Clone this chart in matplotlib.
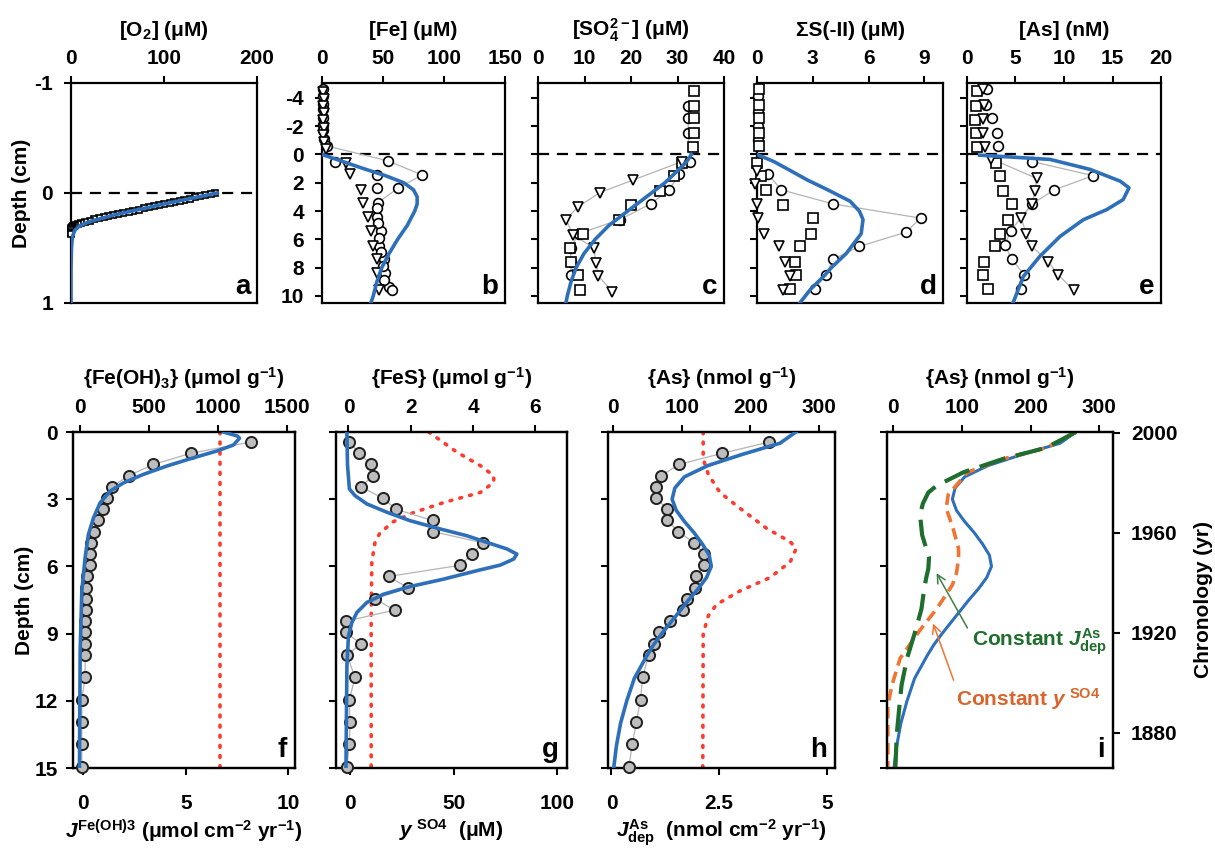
import matplotlib
matplotlib.use('Agg')
import matplotlib.pyplot as plt

plt.rcParams['font.family'] = 'Liberation Sans'
plt.rcParams['font.weight'] = 'bold'
plt.rcParams['axes.labelweight'] = 'bold'
plt.rcParams['axes.unicode_minus'] = False
plt.rcParams['mathtext.fontset'] = 'custom'
plt.rcParams['mathtext.rm'] = 'Liberation Sans:bold'
plt.rcParams['mathtext.it'] = 'Liberation Sans:italic:bold'
plt.rcParams['mathtext.bf'] = 'Liberation Sans:bold'
plt.rcParams['mathtext.sf'] = 'Liberation Sans:bold'

# ---------------- data ----------------
swi = 0  # sediment-water interface depth (cm)

# (a) O2 microprofile
o2_depth = [0.00, 0.01, 0.02, 0.03, 0.04, 0.05, 0.06, 0.07, 0.08, 0.09, 0.10, 0.11, 0.12,
            0.13, 0.14, 0.15, 0.16, 0.17, 0.18, 0.19, 0.20, 0.21, 0.22, 0.23, 0.24, 0.25,
            0.26, 0.27, 0.28, 0.29, 0.30, 0.31, 0.32, 0.33, 0.34, 0.35, 0.36, 0.37]
o2 = [155, 150, 144, 139, 133, 128, 122, 117, 111, 106, 100, 95, 89, 84, 78, 73, 67, 62,
      56, 51, 45, 40, 35, 30, 25, 20, 15, 11, 7, 4, 2, 1, 0, 0, 0, 0, 0, 0]
o2_model_depth = [0, 0.1, 0.2, 0.26, 0.3, 0.34, 0.4, 0.5, 0.7, 1.0]
o2_model = [157, 100, 46, 20, 9, 4, 1.5, 0.5, 0, 0]

# (b) Fe
fe_circ_depth = [-4.6, -4.1, -3.6, -3.2, -2.6, -2.1, -1.7, -1.1, -0.6, 0.45, 1.45, 2.4, 3.4,
                 4.4, 5.4, 6.45, 7.4, 8.4, 9.4]
fe_circ = [1, 1, 0.5, 1, 1, 0.5, 1, 1.5, 4, 54, 82, 62, 46, 45, 48, 47, 51, 52, 55]
fe_circ2_depth = [0.5, 1.45, 2.4, 3.8, 4.85, 5.9, 6.9, 7.9, 8.9, 9.6]
fe_circ2 = [11, 45, 45, 45, 46, 47, 48, 50, 51, 57]
fe_tri_depth = [-4.4, -3.9, -3.4, -2.9, -2.4, -1.9, -1.4, -0.9, -0.4, 0.6, 1.4, 2.5, 3.4,
                4.4, 5.4, 6.45, 7.4, 8.4, 9.6]
fe_tri = [1, 2, 1, 2, 1, 2, 1, 2, 3, 20, 23, 32, 34, 38, 40, 42, 45, 45, 47]
fe_model_depth = [0, 0.5, 1.0, 1.5, 2.0, 2.5, 3.0, 3.5, 4.0, 5.0, 6.0, 7.0, 8.0, 9.0, 10.0, 10.5]
fe_model = [0, 17, 34, 52, 67, 75, 78, 78, 76, 70, 62, 55, 49, 45, 42, 40]

# (c) SO4
so4_sq_depth = [-4.5, -3.4, -2.6, -1.5, -0.5, 0.6, 1.5, 2.6, 3.6, 4.6, 5.6, 6.6, 7.6, 8.5, 9.6]
so4_sq = [33.5, 33.5, 33.5, 33.5, 33.3, 31, 29.3, 26.3, 20.1, 17.4, 9.7, 6.8, 7.2, 8.6, 9]
so4_circ_depth = [-3.4, -2.6, -1.5, 0.5, 1.4, 2.5, 3.5, 4.6, 5.6, 6.6, 7.6, 8.5]
so4_circ = [32.3, 32.3, 32.3, 32.7, 30.4, 28.2, 24.2, 17.6, 8.8, 7.0, 7.0, 7.2]
so4_tri_depth = [0.5, 1.8, 2.7, 3.7, 4.6, 5.7, 6.6, 7.7, 8.6, 9.7]
so4_tri = [31, 20.5, 13.3, 8.6, 6.0, 7.6, 12, 12.5, 13, 16]
so4_model_depth = [0, 0.5, 1, 2, 3, 4, 5, 6, 7, 8, 9, 10, 10.5]
so4_model = [33, 32, 30.5, 27.3, 23.3, 19.3, 15.3, 12.3, 9.9, 8.2, 7.1, 6.3, 6.0]

# (d) sum S(-II)
hs_sq_depth = [-4.6, -3.5, -2.6, -1.5, -0.6, 0.6, 1.5, 2.5, 3.6, 4.5, 5.6, 6.5, 7.6, 8.5, 9.5]
hs_sq = [0.1, 0.1, 0.1, 0.1, 0.1, 0.0, 0.2, 0.5, 1.4, 3.0, 2.9, 2.3, 2.05, 2.1, 1.8]
hs_circ_depth = [-4.1, -3.0, -2.0, -1.0, 1.4, 2.5, 3.5, 4.5, 5.5, 6.5, 7.4, 8.5, 9.5]
hs_circ = [0.05, 0.05, 0.05, 0.05, 0.6, 1.3, 4.1, 8.8, 8.0, 5.5, 4.1, 3.7, 3.1]
hs_tri_depth = [1.2, 2.1, 3.5, 4.5, 5.6, 6.5, 7.6, 8.6, 9.6]
hs_tri = [0.0, -0.1, 0.0, 0.05, 0.4, 1.2, 1.5, 1.8, 1.4]
hs_model_depth = [0, 0.5, 1.0, 1.8, 2.5, 3.3, 4.0, 4.6, 5.6, 6.3, 7.0, 8.0, 8.6, 9.5, 10.5]
hs_model = [0, 0.9, 1.6, 2.7, 3.8, 5.0, 5.5, 5.7, 5.6, 5.2, 4.8, 4.0, 3.6, 2.9, 2.3]

# (e) dissolved As
asw_sq_depth = [-4.5, -3.4, -2.4, -1.5, -0.5, 0.6, 1.5, 2.6, 3.5, 4.6, 5.6, 6.5, 7.6, 8.5, 9.5]
asw_sq = [1.0, 0.9, 0.8, 0.9, 1.0, 3.0, 3.4, 3.7, 4.6, 4.2, 3.4, 2.9, 1.8, 1.6, 2.2]
asw_circ_depth = [-4.6, -3.5, -2.6, -1.5, -0.6, 0.5, 1.5, 2.5, 3.5, 5.4, 6.4, 7.4, 8.5, 9.5]
asw_circ = [2.1, 2.0, 2.6, 3.1, 3.2, 6.7, 13.0, 9.0, 6.7, 4.5, 3.9, 4.6, 5.9, 5.6]
asw_tri_depth = [-4.6, -3.5, -2.5, -1.5, -0.5, 0.3, 1.7, 2.6, 3.5, 4.5, 5.6, 6.5, 7.6, 8.5, 9.6]
asw_tri = [1.7, 1.8, 1.6, 1.6, 1.9, 2.5, 7.2, 7.0, 6.7, 5.6, 6.1, 6.7, 8.4, 9.4, 11.0]
asw_model_depth = [0.05, 0.35, 1.06, 1.89, 2.36, 3.19, 3.9, 4.61, 5.79, 7.21, 8.63, 10.4, 10.5]
asw_model = [1.3, 8.55, 12.7, 15.8, 16.7, 16.1, 14.4, 12.0, 9.6, 7.5, 5.8, 4.8, 4.7]

# solid phase, 0.5-cm slices
sed_depth = [0.45, 0.95, 1.45, 1.95, 2.45, 2.95, 3.45, 3.95, 4.45, 4.95, 5.45, 5.95, 6.45,
             6.95, 7.45, 7.95, 8.45, 8.95, 9.45, 9.95, 10.95, 11.95, 12.95, 13.95, 14.95]

# (f) Fe(OH)3
feoh = [1239, 803, 532, 351, 230, 194, 165, 133, 102, 77, 68, 68, 53, 44, 44, 44, 36, 36,
        36, 36, 36, 12, 12, 12, 12]
feoh_model_depth = [0, 0.18, 0.28, 0.58, 0.85, 1.15, 1.52, 1.89, 2.27, 2.64, 3.16, 3.83,
                    4.57, 5.6, 7.1, 9.8, 15]
feoh_model = [1040, 1142, 1157, 1113, 992, 823, 629, 460, 315, 218, 145, 97, 60, 36, 12, 0, -5]
j_feoh_depth = [0, 15]
j_feoh = [6.67, 6.67]

# (g) FeS
fes = [0.03, 0.35, 0.73, 0.78, 0.4, 1.1, 1.53, 2.7, 2.73, 4.32, 3.97, 3.59, 1.29, 1.91, 0.86,
       1.48, -0.09, -0.09, 0.41, -0.05, 0.21, 0.03, 0.05, 0.03, -0.05]
fes_model_depth = [0, 1.49, 2.54, 2.84, 3.21, 3.58, 3.96, 4.33, 4.63, 4.93, 5.22, 5.45, 5.67,
                   5.94, 6.19, 6.57, 6.9, 7.24, 7.61, 8.06, 8.51, 9.1, 10.45, 15]
fes_model = [-0.05, -0.03, 0.03, 0.21, 0.59, 1.23, 1.98, 2.95, 3.8, 4.45, 5.09, 5.41, 5.31,
             4.88, 4.13, 3.05, 1.98, 1.13, 0.59, 0.27, 0.11, 0.0, -0.05, -0.08]
yso4_depth = [0, 0.9, 1.5, 1.95, 2.25, 2.7, 3.15, 3.6, 4.0, 4.5, 4.9, 5.8, 8.2, 15]
yso4 = [38, 51.6, 62.9, 69.4, 69.4, 62.9, 45.2, 30.6, 21, 14.5, 12.1, 10.5, 10.2, 10.2]

# (h) solid As
as_sed = [227, 159, 96, 70, 63, 63, 79, 79, 95, 118, 133, 132, 121, 120, 108, 102, 83, 67, 59,
          52, 43, 40, 34, 28, 23]
as_model_depth = [0, 0.5, 1.0, 1.5, 2.0, 2.5, 3.0, 3.5, 4.0, 4.5, 5.0, 5.5, 6.0, 6.5, 7.0,
                  7.5, 8.0, 8.5, 9.0, 9.5, 10, 11, 12, 13, 14, 15]
as_model = [266, 243, 188, 138, 104, 90, 86, 92, 104, 118, 130, 140, 143, 136, 124, 110, 97,
            84, 71, 59, 49, 31, 20, 11, 5, 1]
jdep_depth = [0, 1.2, 1.9, 2.7, 3.4, 4.3, 4.9, 5.2, 5.8, 6.5, 7.1, 7.7, 8.2, 9.0, 15]
jdep = [2.13, 2.13, 2.25, 2.52, 2.98, 3.6, 4.15, 4.29, 4.15, 3.68, 2.98, 2.44, 2.25, 2.13, 2.12]

# (i) scenarios
const_j_depth = [0, 0.7, 1.2, 1.8, 2.4, 2.7, 3.2, 3.7, 4.6, 5.6, 6.1, 6.5, 7.0, 7.9, 8.9,
                 10.1, 11.3, 12.2, 13.5, 15]
const_j = [266, 223, 160, 102, 63, 51, 43, 39, 42, 52, 51, 48, 45, 41, 32, 20, 12, 9, 5, 3]
const_y_depth = [0, 0.7, 1.2, 1.8, 2.3, 2.8, 3.4, 4.3, 5.2, 5.65, 6.3, 6.83, 7.86, 8.84,
                 10.1, 11.3, 12.2, 13.5, 15]
const_y = [266, 223, 160, 108, 94, 80, 77, 87, 95, 95, 92, 86, 64, 39, 10, -2, -8, -8, -8]
chron_ticks = [1880, 1920, 1960, 2000]

# ---------------- styles ----------------
W, H = 1215, 848
FS = 15
BLUE = '#2e6fba'
RED = '#ff3a2e'
GRAY_LINE = '#b4b4b4'
GREEN = '#1f6e2e'
ORANGE = '#f07432'
open_kw = dict(ls='none', mfc='white', mec='black', mew=1.2, clip_on=False, zorder=4)
fill_kw = dict(ls='none', marker='o', ms=8, mfc='#bdbdbd', mec='#202020', mew=1.4,
               clip_on=False, zorder=4)
dot_kw = dict(color=RED, lw=2.6, ls=(0, (0.5, 2.3)), dash_capstyle='round')


def rect(x0, x1, y0, y1):
    return [x0 / W, 1 - y1 / H, (x1 - x0) / W, (y1 - y0) / H]


def style(ax):
    for s in ax.spines.values():
        s.set_linewidth(1.6)
    ax.tick_params(direction='out', length=5, width=1.5, labelsize=FS, pad=6)


def letter(ax, s):
    ax.text(0.965, 0.015, s, transform=ax.transAxes, ha='right', va='bottom',
            fontsize=20, fontweight='bold')


fig = plt.figure(figsize=(W / 100, H / 100), dpi=100)


def top_panel(r, xlim, xticks, title, lab, ylim, yticks, ylabels):
    ax = fig.add_axes(r)
    ax.set_xlim(*xlim)
    ax.set_ylim(*ylim)
    ax.xaxis.tick_top()
    ax.xaxis.set_label_position('top')
    ax.set_xticks(xticks)
    ax.set_yticks(yticks)
    if not ylabels:
        ax.set_yticklabels([])
    ax.set_xlabel(title, fontsize=FS, labelpad=9)
    ax.axhline(swi, color='black', lw=1.6, ls=(0, (5, 3.5)), zorder=2)
    style(ax)
    ax.tick_params(axis='y', pad=8)
    letter(ax, lab)
    return ax


wc_ylim = (10.5, -5.05)
wc_ticks = [-4, -2, 0, 2, 4, 6, 8, 10]

# a
ax = top_panel(rect(71, 257, 83, 303), (0, 200), [0, 100, 200], r'[O$_\mathrm{2}$] (μM)', 'a',
               (1, -1), [-1, 0, 1], True)
ax.plot(o2, o2_depth, marker='s', ms=5, **open_kw)
ax.plot(o2_model, o2_model_depth, color=BLUE, lw=2.6, zorder=5)

# b
ax = top_panel(rect(322, 505, 83, 303), (0, 150), [0, 50, 100, 150], '[Fe] (μM)', 'b',
               wc_ylim, wc_ticks, True)
ax.plot(fe_circ, fe_circ_depth, color=GRAY_LINE, lw=0.9, zorder=3)
ax.plot(fe_circ, fe_circ_depth, marker='o', ms=7, **open_kw)
ax.plot(fe_circ2, fe_circ2_depth, marker='o', ms=7, **open_kw)
ax.plot(fe_tri, fe_tri_depth, marker='v', ms=7.5, **open_kw)
ax.plot(fe_model, fe_model_depth, color=BLUE, lw=2.6, zorder=5)

# c
ax = top_panel(rect(538, 724, 83, 303), (0, 40), [0, 10, 20, 30, 40],
               r'[SO$_\mathrm{4}^\mathrm{2-}$] (μM)', 'c', wc_ylim, wc_ticks, False)
ax.plot(so4_circ, so4_circ_depth, color=GRAY_LINE, lw=0.9, zorder=3)
ax.plot(so4_tri, so4_tri_depth, color=GRAY_LINE, lw=0.9, zorder=3)
ax.plot(so4_circ, so4_circ_depth, marker='o', ms=7, **open_kw)
ax.plot(so4_sq, so4_sq_depth, marker='s', ms=6.5, **open_kw)
ax.plot(so4_tri, so4_tri_depth, marker='v', ms=7.5, **open_kw)
ax.plot(so4_model, so4_model_depth, color=BLUE, lw=2.6, zorder=5)

# d
ax = top_panel(rect(757, 943, 83, 303), (0, 10), [0, 3, 6, 9], 'ΣS(-II) (μM)', 'd',
               wc_ylim, wc_ticks, False)
ax.plot(hs_circ[4:], hs_circ_depth[4:], color=GRAY_LINE, lw=0.9, zorder=3)
ax.plot(hs_circ, hs_circ_depth, marker='o', ms=7, **open_kw)
ax.plot(hs_sq, hs_sq_depth, marker='s', ms=6.5, **open_kw)
ax.plot(hs_tri, hs_tri_depth, marker='v', ms=7.5, **open_kw)
ax.plot(hs_model, hs_model_depth, color=BLUE, lw=2.6, zorder=5)

# e
ax = top_panel(rect(967, 1161, 83, 303), (0, 20), [0, 5, 10, 15, 20], '[As] (nM)', 'e',
               wc_ylim, wc_ticks, False)
ax.plot(asw_circ[5:], asw_circ_depth[5:], color=GRAY_LINE, lw=0.9, zorder=3)
ax.plot(asw_tri[5:], asw_tri_depth[5:], color=GRAY_LINE, lw=0.9, zorder=3)
ax.plot(asw_circ, asw_circ_depth, marker='o', ms=7, **open_kw)
ax.plot(asw_sq, asw_sq_depth, marker='s', ms=6.5, **open_kw)
ax.plot(asw_tri, asw_tri_depth, marker='v', ms=7.5, **open_kw)
ax.plot(asw_model, asw_model_depth, color=BLUE, lw=2.6, zorder=5)

# depth label for top row
fig.text(22 / W, 1 - 193 / H, 'Depth (cm)', rotation=90, ha='center', va='center',
         fontsize=FS, fontweight='bold')

# ---------------- bottom row ----------------
depth_ticks = [0, 3, 6, 9, 12, 15]


def bottom_panel(r, top_xlim, top_ticks, top_title, bot_xlim, bot_ticks, bot_labels,
                 bot_title, lab, ylabels):
    ax = fig.add_axes(r)
    ax.set_xlim(*bot_xlim)
    ax.set_ylim(15, 0)
    ax.set_yticks(depth_ticks)
    if not ylabels:
        ax.set_yticklabels([])
    ax.set_xticks(bot_ticks, labels=bot_labels)
    ax.set_xlabel(bot_title, fontsize=FS, labelpad=3)
    style(ax)
    ax.tick_params(axis='x', pad=14)
    axt = ax.twiny()
    axt.set_xlim(*top_xlim)
    axt.set_xticks(top_ticks)
    axt.set_xlabel(top_title, fontsize=FS, labelpad=9)
    style(axt)
    letter(axt, lab)
    return ax, axt


# f
ax, axt = bottom_panel(rect(73, 295, 432, 768), (-52, 1560), [0, 500, 1000, 1500],
                       r'{Fe(OH)$_\mathrm{3}$} (μmol g$^\mathrm{-1}$)',
                       (-0.5, 10.33), [0, 5, 10], ['0', '5', '10'],
                       r'$J^{\mathrm{Fe(OH)3}}$ (μmol cm$^\mathrm{-2}$ yr$^\mathrm{-1}$)', 'f', True)
ax.plot(j_feoh, j_feoh_depth, **dot_kw)
axt.plot(feoh, sed_depth, color=GRAY_LINE, lw=0.9, zorder=3)
axt.plot(feoh, sed_depth, **fill_kw)
axt.plot(feoh_model, feoh_model_depth, color=BLUE, lw=2.6, zorder=5)

# g
ax, axt = bottom_panel(rect(336, 567, 432, 768), (-0.4, 7.02), [0, 2, 4, 6],
                       r'{FeS} (μmol g$^\mathrm{-1}$)',
                       (-6.8, 104.8), [0, 50, 100], ['0', '50', '100'],
                       r'$y^{\ \mathrm{SO4}}$  (μM)', 'g', False)
ax.plot(yso4, yso4_depth, **dot_kw)
axt.plot(fes, sed_depth, color=GRAY_LINE, lw=0.9, zorder=3)
axt.plot(fes, sed_depth, **fill_kw)
axt.plot(fes_model, fes_model_depth, color=BLUE, lw=2.6, zorder=5)

# h
ax, axt = bottom_panel(rect(608, 835, 432, 768), (-7.3, 323), [0, 100, 200, 300],
                       r'{As} (nmol g$^\mathrm{-1}$)',
                       (-0.08, 5.19), [0, 2.5, 5], ['0', '2.5', '5'],
                       r'$J^{\mathrm{As}}_{\mathrm{dep}}$  (nmol cm$^\mathrm{-2}$ yr$^\mathrm{-1}$)',
                       'h', False)
ax.plot(jdep, jdep_depth, **dot_kw)
axt.plot(as_sed, sed_depth, color=GRAY_LINE, lw=0.9, zorder=3)
axt.plot(as_sed, sed_depth, **fill_kw)
axt.plot(as_model, as_model_depth, color=BLUE, lw=2.6, zorder=5)

# i
ax = fig.add_axes(rect(887, 1113, 432, 768))
ax.set_xlim(-9.2, 320)
ax.set_ylim(15, 0)
ax.xaxis.tick_top()
ax.xaxis.set_label_position('top')
ax.set_xticks([0, 100, 200, 300])
ax.set_yticks(depth_ticks)
ax.set_yticklabels([])
ax.set_xlabel(r'{As} (nmol g$^\mathrm{-1}$)', fontsize=FS, labelpad=9)
style(ax)
ax.plot(as_model, as_model_depth, color=BLUE, lw=2.2, zorder=3)
ax.plot(const_y, const_y_depth, color=ORANGE, lw=2.6, ls=(0, (3.2, 1.8)), zorder=4)
ax.plot(const_j, const_j_depth, color=GREEN, lw=3, ls=(0, (6.5, 2.6)), zorder=5)
ax.annotate(r'Constant $J^{\mathrm{As}}_{\mathrm{dep}}$', xy=(63, 6.3), xytext=(114, 9.35),
            color=GREEN, fontsize=FS, fontweight='bold', va='center',
            arrowprops=dict(arrowstyle='->', color='#3f7f47', lw=1.1, shrinkA=2, shrinkB=0,
                            relpos=(0, 0.7)))
ax.annotate(r'Constant $y^{\ \mathrm{SO4}}$', xy=(58, 8.55), xytext=(92, 11.9),
            color='#d9652c', fontsize=FS, fontweight='bold', va='center',
            arrowprops=dict(arrowstyle='->', color=ORANGE, lw=1.1, shrinkA=2, shrinkB=0,
                            relpos=(0, 0.9)))
letter(ax, 'i')
axr = ax.twinx()
axr.set_ylim(1865.8, 2000.3)
axr.set_yticks(chron_ticks)
axr.set_ylabel('Chronology (yr)', fontsize=FS, labelpad=12)
style(axr)
axr.tick_params(axis='y', pad=8)

fig.text(24 / W, 1 - 600 / H, 'Depth (cm)', rotation=90, ha='center', va='center',
         fontsize=FS, fontweight='bold')

fig.savefig('out.png', dpi=100, facecolor='white')
